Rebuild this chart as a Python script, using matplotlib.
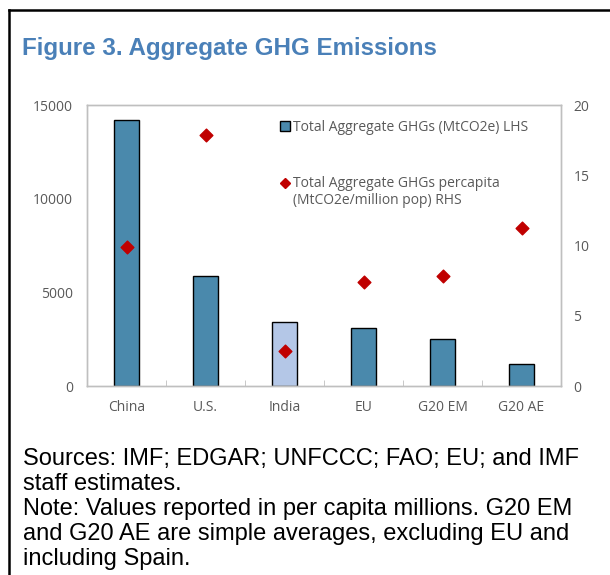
import matplotlib
matplotlib.use("Agg")
import matplotlib.pyplot as plt
from matplotlib.lines import Line2D
from matplotlib.patches import Patch

categories = ["China", "U.S.", "India", "EU", "G20 EM", "G20 AE"]
total_ghg = [14200, 5890, 3430, 3080, 2520, 1170]
percapita_ghg = [9.87, 17.84, 2.49, 7.42, 7.83, 11.25]
left_ticks = [0, 5000, 10000, 15000]
right_ticks = [0, 5, 10, 15, 20]

bar_color = "#4A89AC"
india_color = "#B4C7E7"
diamond_color = "#C00000"
grey_text = "#595959"
spine_color = "#BFBFBF"
tick_font = "Open Sans"

fig = plt.figure(figsize=(6.10, 5.75), dpi=100)
ax = fig.add_axes([87/610, 1-386/575, (561-87)/610, (386-105)/575])
ax2 = ax.twinx()

x = list(range(len(categories)))
colors = [india_color if c == "India" else bar_color for c in categories]
ax.bar(x, total_ghg, width=0.32, color=colors, edgecolor="black", linewidth=1.0, zorder=2)
ax2.scatter(x, percapita_ghg, marker="D", s=42, color=diamond_color, zorder=3)

ax.set_xlim(-0.5, len(categories)-0.5)
ax.set_ylim(0, 15000)
ax2.set_ylim(0, 20)
ax.set_yticks(left_ticks)
ax2.set_yticks(right_ticks)
ax.set_xticks(x)
ax.set_xticklabels(categories)
ax.set_xticks([i + 0.5 for i in x[:-1]], minor=True)

for a in (ax, ax2):
    for s in a.spines.values():
        s.set_color(spine_color)
        s.set_linewidth(1.0)
ax.tick_params(axis="x", which="major", length=0, pad=10, labelsize=10, labelcolor=grey_text)
ax.tick_params(axis="x", which="minor", direction="in", length=4, color=spine_color)
ax.tick_params(axis="y", length=0, pad=10, labelsize=10, labelcolor=grey_text)
ax2.tick_params(axis="y", length=0, pad=9, labelsize=10, labelcolor=grey_text)
for lab in ax.get_xticklabels() + ax.get_yticklabels() + ax2.get_yticklabels():
    lab.set_fontfamily(tick_font)

# legend entry 1 (bars)
leg = ax2.legend([Patch(facecolor=bar_color, edgecolor="black", linewidth=1.0)],
                 ["Total Aggregate GHGs (MtCO2e) LHS"],
                 loc="upper left", bbox_to_anchor=((280-87)/474, 1-(120-105)/281),
                 frameon=False, handlelength=0.7, handleheight=0.7, handletextpad=0.25,
                 borderpad=0, borderaxespad=0,
                 prop={"family": tick_font, "size": 10})
for t in leg.get_texts():
    t.set_color(grey_text)

# legend entry 2 (diamonds)
def axfrac(px, py):
    return ((px-87)/474, (386-py)/281)

mx, my = axfrac(285, 182.5)
ax2.add_line(Line2D([mx], [my], transform=ax2.transAxes, linestyle="none", marker="D",
                    markersize=5, color=diamond_color, clip_on=False))
tx, ty = axfrac(293, 175.5)
ax2.text(tx, ty, "Total Aggregate GHGs percapita\n(MtCO2e/million pop) RHS",
         transform=ax2.transAxes, ha="left", va="top", fontsize=10, family=tick_font,
         color=grey_text, linespacing=1.25)

fig.text(22/610, 1-48.7/575, "Figure 3. Aggregate GHG Emissions", fontsize=17.4, fontweight="bold",
         color="#4A80B8", family="Liberation Sans", va="center", ha="left")

notes = ("Sources: IMF; EDGAR; UNFCCC; FAO; EU; and IMF\nstaff estimates.\n"
         "Note: Values reported in per capita millions. G20 EM\n"
         "and G20 AE are simple averages, excluding EU and\nincluding Spain.")
fig.text(23/610, 1-448.5/575, notes, fontsize=17, color="black", family="Liberation Sans",
         va="top", ha="left", linespacing=1.165)

fig.add_artist(Line2D([8.5/610, 8.5/610], [0, 1-10/575], color="black", linewidth=1.8,
                      transform=fig.transFigure))
fig.add_artist(Line2D([8.5/610, 1], [1-10/575, 1-10/575], color="black", linewidth=1.8,
                      transform=fig.transFigure))

fig.savefig("out.png", dpi=100)
